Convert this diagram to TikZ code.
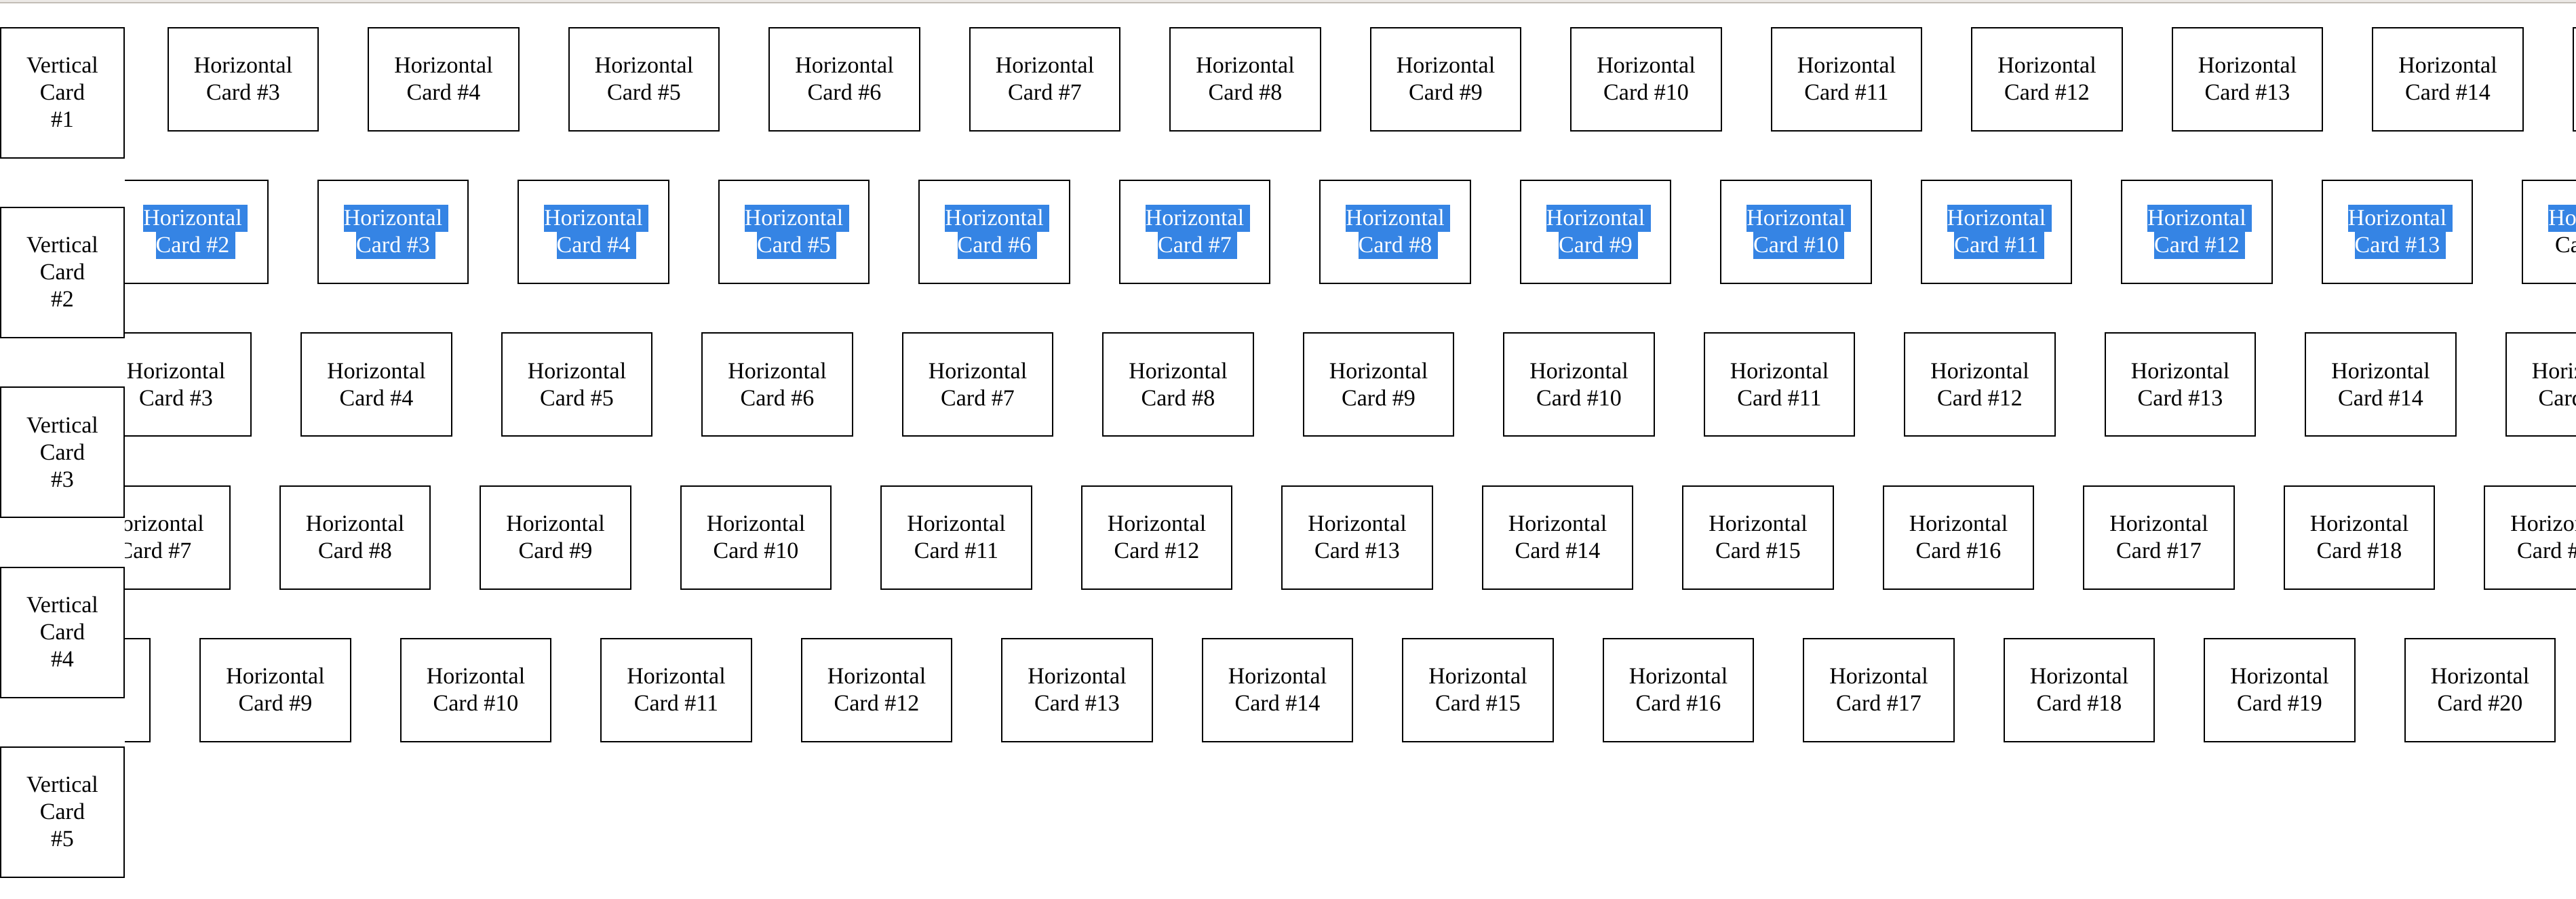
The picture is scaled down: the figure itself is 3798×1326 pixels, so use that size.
\documentclass[tikz,border=0pt]{standalone}
\usepackage{fontspec}
\setmainfont{Liberation Serif}
\definecolor{selblue}{RGB}{53,132,228}
\definecolor{barlight}{RGB}{236,233,230}
\definecolor{bardark}{RGB}{195,189,182}
\newlength\hlw
\newcommand\cardline[1]{\rule[-4.7pt]{0pt}{20pt}#1}
\newcommand\selline[1]{\settowidth\hlw{#1\ }\rlap{\color{selblue}\rule[-4.7pt]{\hlw}{20pt}}\textcolor{white}{#1}}
\tikzset{
  cardbase/.style={draw, line width=1pt, fill=white, inner sep=0pt, align=center,
    font=\fontsize{17pt}{20pt}\selectfont},
  vcard/.style={cardbase, minimum width=91pt, minimum height=96pt},
  hcard/.style={cardbase, minimum width=110.8pt, minimum height=76pt}
}
\begin{document}
\begin{tikzpicture}[x=0.5pt,y=-0.5pt]
\useasboundingbox (0,0) rectangle (3798,1326);
\fill[barlight] (0,0) rectangle (3798,3);
\fill[bardark] (0,3) rectangle (3798,4.7);
\begin{scope}
\clip (184,5) rectangle (3798,1326);
% rows 1,3,4,5
\foreach \r/\first/\last/\xo/\yo in {1/3/15/358.5/117, 3/3/15/259.5/567.4, 4/7/19/228/792.6, 5/8/20/110.5/1017.8}{
  \foreach \k in {\first,...,\last}{
    \pgfmathsetmacro\xx{\xo+(\k-\first)*295.5}
    \node[hcard] (r\r c\k) at (\xx,\yo) {\cardline{Horizontal}\\\cardline{Card \#\k}};
  }
}
% row 2 (selected text)
\foreach \k in {2,...,13}{
  \pgfmathsetmacro\xx{284+(\k-2)*295.5}
  \node[hcard] (r2c\k) at (\xx,342.2) {\selline{Horizontal}\\\selline{Card \#\k}};
}
\node[hcard] (r2c14) at (3830,342.2) {\selline{Horizontal}\\\cardline{Card \#14}};
\end{scope}
% vertical cards
\foreach \i in {1,...,5}{
  \pgfmathsetmacro\yy{137+(\i-1)*265.2}
  \node[vcard] (v\i) at (92,\yy) {\cardline{Vertical}\\\cardline{Card}\\\cardline{\#\i}};
}
\end{tikzpicture}
\end{document}
